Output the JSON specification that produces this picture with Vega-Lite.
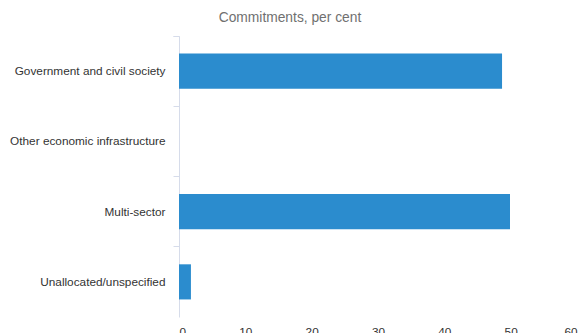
{
  "$schema": "https://vega.github.io/schema/vega-lite/v6.json",
  "autosize": "none",
  "width": 398,
  "height": 281,
  "padding": {"left": 179, "top": 36, "right": 3, "bottom": 16},
  "title": {
    "text": "Commitments, per cent",
    "anchor": "middle",
    "dx": -88,
    "offset": 6,
    "font": "Liberation Sans",
    "fontSize": 13.8,
    "fontWeight": "normal",
    "color": "#707070"
  },
  "data": {
    "values": [
      {"sector": "Government and civil society", "value": 48.7},
      {"sector": "Other economic infrastructure", "value": 0},
      {"sector": "Multi-sector", "value": 49.9},
      {"sector": "Unallocated/unspecified", "value": 1.8}
    ]
  },
  "mark": {"type": "bar", "color": "#2b8cce", "height": {"band": 0.5}},
  "encoding": {
    "y": {
      "field": "sector",
      "type": "nominal",
      "sort": null,
      "scale": {"paddingInner": 0, "paddingOuter": 0},
      "axis": {
        "title": null,
        "bandPosition": 0,
        "tickExtra": true,
        "tickSize": 6,
        "tickColor": "#d6dcea",
        "domainColor": "#d6dcea",
        "labelPadding": 8,
        "labelFont": "Liberation Sans",
        "labelFontSize": 11.8,
        "labelColor": "#333333"
      }
    },
    "x": {
      "field": "value",
      "type": "quantitative",
      "scale": {"domain": [0, 60]},
      "axis": {
        "title": null,
        "domain": false,
        "ticks": false,
        "grid": false,
        "values": [0, 10, 20, 30, 40, 50, 60],
        "labelPadding": 9,
        "labelFont": "Liberation Sans",
        "labelFontSize": 11.8,
        "labelColor": "#333333",
        "labelBaseline": "top"
      }
    }
  },
  "config": {"view": {"stroke": null}}
}
